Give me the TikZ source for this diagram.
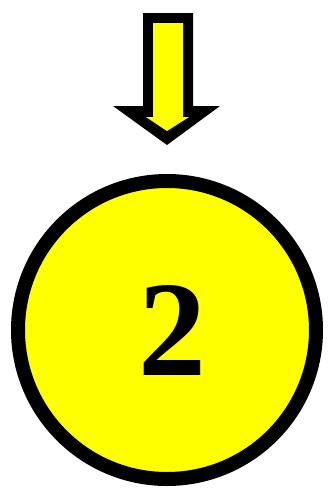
\documentclass[tikz,border=0pt]{standalone}
\usepackage{fontspec}
\setmainfont{Liberation Serif}
\usepackage{tikz}
\usetikzlibrary{positioning}
\definecolor{kiiro}{RGB}{255,255,0}
\tikzset{
  maru/.style={circle,draw=black,fill=kiiro,line width=14pt,minimum size=298pt,inner sep=0pt,
    font=\fontsize{136}{136}\selectfont\bfseries},
}
\begin{document}
\begin{tikzpicture}[x=1pt,y=-1pt]
    \useasboundingbox (0,0) rectangle (328,488);
    % 矢印
    \fill[black] (143,13) -- (193,13) -- (193,106) -- (220,106) -- (167,145)
        -- (113,106) -- (143,106) -- cycle;
    \fill[kiiro] (153,23) -- (183,23) -- (183,117) -- (189,117) -- (167,131)
        -- (146,117) -- (153,117) -- cycle;
    % 円
    \node[maru] (circ) at (167,330) {\hspace*{10pt}2};
    \coordinate (tip) at (167,145);
\end{tikzpicture}
\end{document}
